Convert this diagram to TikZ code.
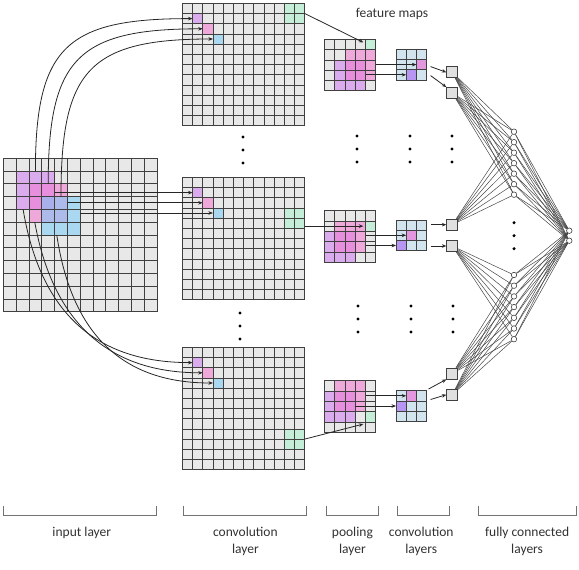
\documentclass[tikz,border=0pt]{standalone}
\usepackage{fontspec}
\setmainfont{Carlito}
\usepackage{tikz}
\usetikzlibrary{arrows.meta,calc}

\definecolor{cellgray}{RGB}{232,232,232}
\definecolor{gridgray}{RGB}{64,64,64}
\definecolor{purp}{RGB}{207,123,243}
\definecolor{pinkc}{RGB}{243,119,207}
\definecolor{bluec}{RGB}{119,203,247}
\definecolor{greenc}{RGB}{196,238,216}
\definecolor{convblue}{RGB}{210,228,238}
\definecolor{magc}{RGB}{228,150,222}
\definecolor{violc}{RGB}{182,150,242}
\definecolor{textgray}{RGB}{50,50,50}

\tikzset{
  fmcell/.style={fill=cellgray,inner sep=0pt,outer sep=0pt},
  gridline/.style={draw=gridgray,line width=0.75pt},
  tintpatch/.style={inner sep=0pt,outer sep=0pt,fill opacity=0.55},
  solidcell/.style={inner sep=0pt,outer sep=0pt},
  arr/.style={-{Stealth[length=4.5pt,width=3.6pt]},line width=0.8pt,draw=black!85},
  fcline/.style={line width=0.5pt,draw=black!72},
  sqbox/.style={draw=gridgray,fill=black!12,line width=0.7pt,minimum size=11pt,inner sep=0pt},
  neuron/.style={circle,draw=gridgray,fill=white,line width=0.6pt,minimum size=5.5pt,inner sep=0pt},
  bracket/.style={draw=black!55,line width=0.9pt},
  lbl/.style={font=\fontsize{13.5}{17.4}\selectfont,text=textgray,align=center}
}

% feature map: name, left, top, cells per side, cell size, colouring
\newcommand{\featgrid}[6]{%
  \node[inner sep=0pt,outer sep=0pt,minimum size={#4*#5}] (#1) at ({#2+#4*#5/2},{#3+#4*#5/2}) {};
  \pgfmathtruncatemacro{\gridlast}{#4-1}
  \foreach \i in {0,...,\gridlast}
    \foreach \j in {0,...,\gridlast}
      \node[fmcell,minimum size=#5] (#1-\i-\j) at ({#2+(\i+0.5)*#5},{#3+(\j+0.5)*#5}) {};
  #6
  \foreach \k in {0,...,#4} {
    \draw[gridline] ({#2+\k*#5},#3) -- ++(0,{#4*#5});
    \draw[gridline] (#2,{#3+\k*#5}) -- ++({#4*#5},0);
  }
}

\begin{document}
\begin{tikzpicture}[x=1pt,y=-1pt]
  \useasboundingbox (0,0) rectangle (579,570);

  % input layer
  \featgrid{inp}{3.4}{158.2}{12}{12.8}{
    \node[tintpatch,fill=purp,minimum size=38.4pt] (pa) at (inp-2-2) {};
    \node[tintpatch,fill=pinkc,minimum size=38.4pt] (pb) at (inp-3-3) {};
    \node[tintpatch,fill=bluec,minimum size=38.4pt] (pc) at (inp-4-4) {};
  }

  % convolution layer
  \featgrid{cv1}{182.3}{3.3}{12}{10.2}{
    \node[tintpatch,fill=purp,minimum size=10.2pt] (cv1a) at (cv1-1-1) {};
    \node[tintpatch,fill=pinkc,minimum size=10.2pt] (cv1b) at (cv1-2-2) {};
    \node[tintpatch,fill=bluec,minimum size=10.2pt] (cv1c) at (cv1-3-3) {};
    \node[solidcell,fill=greenc,minimum size=20.4pt] (cv1g) at (cv1-10-0.south east) {};
  }
  \featgrid{cv2}{182.3}{177.3}{12}{10.2}{
    \node[tintpatch,fill=purp,minimum size=10.2pt] (cv2a) at (cv2-1-1) {};
    \node[tintpatch,fill=pinkc,minimum size=10.2pt] (cv2b) at (cv2-2-2) {};
    \node[tintpatch,fill=bluec,minimum size=10.2pt] (cv2c) at (cv2-3-3) {};
    \node[solidcell,fill=greenc,minimum size=20.4pt] (cv2g) at (cv2-10-3.south east) {};
  }
  \featgrid{cv3}{182.3}{347.3}{12}{10.2}{
    \node[tintpatch,fill=purp,minimum size=10.2pt] (cv3a) at (cv3-1-1) {};
    \node[tintpatch,fill=pinkc,minimum size=10.2pt] (cv3b) at (cv3-2-2) {};
    \node[tintpatch,fill=bluec,minimum size=10.2pt] (cv3c) at (cv3-3-3) {};
    \node[solidcell,fill=greenc,minimum size=20.4pt] (cv3g) at (cv3-10-8.south east) {};
  }

  % pooling layer
  \featgrid{pl1}{324.3}{39.3}{5}{10.3}{
    \node[tintpatch,fill=purp,minimum size=30.9pt] (pl1a) at (pl1-2-3) {};
    \node[tintpatch,fill=pinkc,minimum size=30.9pt] (pl1b) at (pl1-3-2) {};
    \node[solidcell,fill=greenc,minimum size=10.3pt] (pl1g) at (pl1-4-0) {};
  }
  \featgrid{pl2}{324.3}{210.7}{5}{10.3}{
    \node[tintpatch,fill=purp,minimum size=30.9pt] (pl2a) at (pl2-1-3) {};
    \node[tintpatch,fill=pinkc,minimum size=30.9pt] (pl2b) at (pl2-2-2) {};
    \node[solidcell,fill=greenc,minimum size=10.3pt] (pl2g) at (pl2-4-1) {};
  }
  \featgrid{pl3}{324.3}{380.7}{5}{10.3}{
    \node[tintpatch,fill=purp,minimum size=30.9pt] (pl3a) at (pl3-1-2) {};
    \node[tintpatch,fill=pinkc,minimum size=30.9pt] (pl3b) at (pl3-2-1) {};
    \node[solidcell,fill=greenc,minimum size=10.3pt] (pl3g) at (pl3-4-3) {};
  }

  % convolution layers
  \featgrid{ck1}{396}{49.3}{3}{10.2}{
    \fill[convblue] (ck1.north west) rectangle (ck1.south east);
    \node[solidcell,fill=magc,minimum size=10.2pt] (ck1a) at (ck1-2-1) {};
    \node[solidcell,fill=violc,minimum size=10.2pt] (ck1b) at (ck1-1-2) {};
  }
  \featgrid{ck2}{396}{220}{3}{10.2}{
    \fill[convblue] (ck2.north west) rectangle (ck2.south east);
    \node[solidcell,fill=magc,minimum size=10.2pt] (ck2a) at (ck2-1-1) {};
    \node[solidcell,fill=violc,minimum size=10.2pt] (ck2b) at (ck2-0-2) {};
  }
  \featgrid{ck3}{396}{390.7}{3}{10.2}{
    \fill[convblue] (ck3.north west) rectangle (ck3.south east);
    \node[solidcell,fill=magc,minimum size=10.2pt] (ck3a) at (ck3-1-0) {};
    \node[solidcell,fill=violc,minimum size=10.2pt] (ck3b) at (ck3-0-1) {};
  }

  % fully connected layers
  \node[sqbox] (sq1) at (452.2,72.3) {};
  \node[sqbox] (sq2) at (452.2,93) {};
  \node[sqbox] (sq3) at (452.2,224.7) {};
  \node[sqbox] (sq4) at (452.2,246) {};
  \node[sqbox] (sq5) at (452.2,373.5) {};
  \node[sqbox] (sq6) at (452.2,394.7) {};
  \foreach \k in {1,...,7}
    \node[neuron] (h\k) at (514,{131.7+(\k-1)*10.5}) {};
  \foreach \k in {8,...,14}
    \node[neuron] (h\k) at (514,{275+(\k-8)*10.7}) {};
  \node[neuron] (out1) at (569.3,230.7) {};
  \node[neuron] (out2) at (569.3,240.7) {};
  \foreach \s in {1,2,3}
    \foreach \k in {1,...,7}
      \draw[fcline] (sq\s) -- (h\k);
  \foreach \s in {4,5,6}
    \foreach \k in {8,...,14}
      \draw[fcline] (sq\s) -- (h\k);
  \foreach \k in {1,...,14}
    \foreach \o in {1,2}
      \draw[fcline] (h\k) -- (out\o);

  % input -> convolution
  \draw[arr] (pa.north) .. controls +(0,-125) and +(-125,0) .. (cv1-1-1.west);
  \draw[arr] (pb.north) .. controls +(0,-125) and +(-125,0) .. (cv1-2-2.west);
  \draw[arr] (pc.north) .. controls +(0,-125) and +(-125,0) .. (cv1-3-3.west);
  \draw[arr] (pa.east |- cv2-1-1.west) -- (cv2-1-1.west);
  \draw[arr] (pb.east |- cv2-2-2.west) -- (cv2-2-2.west);
  \draw[arr] (pc.east |- cv2-3-3.west) -- (cv2-3-3.west);
  \draw[arr] ($(pa.south west)!0.18!(pa.south east)$) .. controls +(20,120) and +(-80,0) .. (cv3-1-1.west);
  \draw[arr] ($(pb.south west)!0.15!(pb.south east)$) .. controls +(20,110) and +(-85,0) .. (cv3-2-2.west);
  \draw[arr] ($(pc.south west)!0.39!(pc.south east)$) .. controls +(15,100) and +(-90,0) .. (cv3-3-3.west);

  % convolution -> pooling
  \draw[arr] (cv1-11-0.south east) -- ([shift={(3,-2)}]pl1-3-0.center);
  \draw[arr] (pl2-3-1 -| cv2.east) -- ([xshift=3pt]pl2-3-1.center);
  \draw[arr] (cv3-11-8.south east) -- ([shift={(3,-3)}]pl3-3-4.center);

  % pooling -> convolution
  \draw[arr] (pl1-4-2.east |- ck1-2-1.west) -- (ck1-2-1.west);
  \draw[arr] (pl1-4-3.west |- ck1-1-2.west) -- (ck1-1-2.west);
  \draw[arr] (pl2-4-2.west |- ck2-1-1.west) -- (ck2-1-1.west);
  \draw[arr] (pl2-4-3.west |- ck2-0-2.west) -- (ck2-0-2.west);
  \draw[arr] (pl3-4-1.west |- ck3-1-0.west) -- (ck3-1-0.west);
  \draw[arr] (pl3-3-2.west |- ck3-0-1.west) -- (ck3-0-1.west);

  % convolution -> fully connected
  \draw[arr] ([shift={(4,2)}]ck1.east) -- (sq1.west);
  \draw[arr] ([shift={(4,11)}]ck1.east) -- (sq2.north west);
  \draw[arr] ($(ck2.east |- sq3.west)+(4,0)$) -- (sq3.west);
  \draw[arr] ($(ck2.east |- sq4.west)+(4,0)$) -- (sq4.west);
  \draw[arr] ([shift={(2,-17)}]ck3.east) -- (sq5.south west);
  \draw[arr] ([shift={(4,-6.5)}]ck3.east) -- (sq6.west);

  % dots
  \foreach \x/\y in {243/137,240/313,357/136,358/306,410/136,411/306,452/136,453/306,514/222.7}
    \foreach \d in {0,13,26}
      \fill (\x,{\y+\d}) circle (1.7);

  \node[lbl] (fmaps) at (392,14) {feature maps};

  % layer brackets
  \draw[bracket] (3.7,505.5) -- (3.7,515) -- (156.1,515) -- (156.1,505.5);
  \draw[bracket] (183.3,505.5) -- (183.3,515) -- (306.7,515) -- (306.7,505.5);
  \draw[bracket] (326.4,505.5) -- (326.4,515) -- (378,515) -- (378,505.5);
  \draw[bracket] (397.8,505.5) -- (397.8,515) -- (449.8,515) -- (449.8,505.5);
  \draw[bracket] (478.4,505.5) -- (478.4,515) -- (576.2,515) -- (576.2,505.5);
  \node[lbl] (lin) at (81.8,532.8) {input layer};
  \node[lbl] (lconv) at (245.4,541.5) {convolution\\layer};
  \node[lbl] (lpool) at (352.4,541.5) {pooling\\layer};
  \node[lbl] (lconvs) at (421.2,541.5) {convolution\\layers};
  \node[lbl] (lfc) at (527.1,541.5) {fully connected\\layers};
\end{tikzpicture}
\end{document}
